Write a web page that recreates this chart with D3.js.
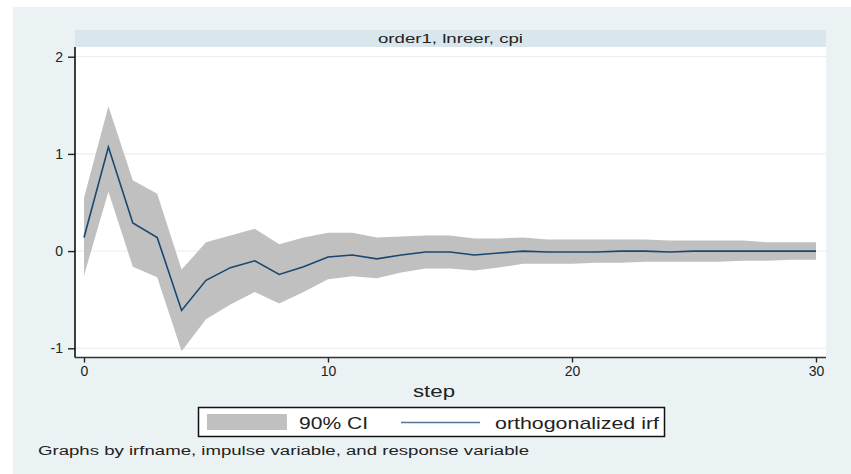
<!DOCTYPE html>
<html>
<head>
<meta charset="utf-8">
<script src="https://cdn.jsdelivr.net/npm/d3@7"></script>
<style>
  body { margin: 0; background: #fff; }
  svg { display: block; font-family: "Liberation Sans", Arial, sans-serif; }
</style>
</head>
<body>
<div id="chart"></div>
<script>
// impulse response of order1, lnreer -> cpi, steps 0..30
const steps = d3.range(0, 31);
const irf = [0.14, 1.07, 0.29, 0.14, -0.61, -0.30, -0.17, -0.10, -0.24, -0.16,
    -0.06, -0.04, -0.08, -0.04, -0.01, -0.01, -0.04, -0.02, 0.00, -0.01,
    -0.01, -0.01, 0.00, 0.00, -0.01, 0.00, 0.00, 0.00, 0.00, 0.00, 0.00];
const upper = [0.55, 1.49, 0.73, 0.59, -0.19, 0.09, 0.16, 0.23, 0.07, 0.14,
    0.19, 0.19, 0.14, 0.15, 0.16, 0.16, 0.13, 0.13, 0.14, 0.12,
    0.12, 0.12, 0.12, 0.12, 0.11, 0.11, 0.11, 0.11, 0.09, 0.09, 0.09];
const lower = [-0.25, 0.61, -0.16, -0.27, -1.03, -0.70, -0.55, -0.42, -0.54, -0.42,
    -0.29, -0.26, -0.28, -0.22, -0.18, -0.18, -0.20, -0.17, -0.13, -0.13,
    -0.13, -0.12, -0.12, -0.11, -0.11, -0.11, -0.11, -0.10, -0.10, -0.09, -0.09];
const yTicks = [-1, 0, 1, 2];
const xTicks = [0, 10, 20, 30];

const data = steps.map(function (s, i) {
    return {step: s, irf: irf[i], lo: lower[i], hi: upper[i]};
});

const W = 851, H = 474;
const plot = {left: 75, right: 826, top: 47, bottom: 357.5};

const svg = d3.select("#chart")
    .append("svg")
    .attr("width", W)
    .attr("height", H);

// outer graph region
svg.append("rect")
    .attr("x", 13).attr("y", 7)
    .attr("width", W - 13).attr("height", H - 7)
    .attr("fill", "#eaf2f3");

// subtitle strip
svg.append("rect")
    .attr("x", plot.left).attr("y", 30)
    .attr("width", plot.right - plot.left).attr("height", 17)
    .attr("fill", "#d9e6eb");
svg.append("text")
    .attr("x", (plot.left + plot.right) / 2)
    .attr("y", 39)
    .attr("text-anchor", "middle")
    .attr("dominant-baseline", "central")
    .attr("font-size", 12)
    .attr("fill", "#222")
    .attr("textLength", 145)
    .attr("lengthAdjust", "spacingAndGlyphs")
    .text("order1, lnreer, cpi");

// plot region
svg.append("rect")
    .attr("x", plot.left).attr("y", plot.top)
    .attr("width", plot.right - plot.left).attr("height", plot.bottom - plot.top)
    .attr("fill", "#fff");

const x = d3.scaleLinear().domain([0, 30]).range([84, 816]);
const y = d3.scaleLinear().domain([-1, 2]).range([348.3, 56.7]);

// gridlines
svg.append("g")
    .selectAll("line")
    .data(yTicks)
    .enter()
    .append("line")
    .attr("x1", plot.left).attr("x2", plot.right)
    .attr("y1", function (d) { return y(d); })
    .attr("y2", function (d) { return y(d); })
    .attr("stroke", "#e4eef1")
    .attr("stroke-width", 1);

// confidence band
const area = d3.area()
    .x(function (d) { return x(d.step); })
    .y0(function (d) { return y(d.lo); })
    .y1(function (d) { return y(d.hi); });
svg.append("path")
    .datum(data)
    .attr("d", area)
    .attr("fill", "#c0c0c0");

// irf line
const line = d3.line()
    .x(function (d) { return x(d.step); })
    .y(function (d) { return y(d.irf); });
svg.append("path")
    .datum(data)
    .attr("d", line)
    .attr("fill", "none")
    .attr("stroke", "#1a476f")
    .attr("stroke-width", 1.6);

// axes (plain hyphen for negatives, as in the original)
const fmt = function (d) { return String(d); };
const yAxis = svg.append("g")
    .attr("transform", `translate(${plot.left}, 0)`)
    .call(d3.axisLeft(y).tickValues(yTicks).tickSize(7).tickPadding(5).tickFormat(fmt));
const xAxis = svg.append("g")
    .attr("transform", `translate(0, ${plot.bottom})`)
    .call(d3.axisBottom(x).tickValues(xTicks).tickSize(5).tickPadding(4).tickFormat(fmt));
[yAxis, xAxis].forEach(function (g) {
    g.select(".domain").remove();
    g.selectAll(".tick line").attr("stroke", "#222").attr("stroke-width", 1.4);
    g.selectAll(".tick text")
        .attr("font-size", 14)
        .attr("fill", "#222")
        .attr("font-family", "\"Liberation Sans\", Arial, sans-serif");
});

svg.append("line")
    .attr("x1", plot.left).attr("x2", plot.left)
    .attr("y1", plot.top).attr("y2", plot.bottom)
    .attr("stroke", "#111").attr("stroke-width", 1.6);
svg.append("line")
    .attr("x1", plot.left).attr("x2", plot.right)
    .attr("y1", plot.bottom).attr("y2", plot.bottom)
    .attr("stroke", "#333").attr("stroke-width", 1.6);

// axis title
svg.append("text")
    .attr("x", 434).attr("y", 391)
    .attr("text-anchor", "middle")
    .attr("dominant-baseline", "central")
    .attr("font-size", 17)
    .attr("fill", "#222")
    .attr("textLength", 42)
    .attr("lengthAdjust", "spacingAndGlyphs")
    .text("step");

// legend
const legend = svg.append("g");
legend.append("rect")
    .attr("x", 198.5).attr("y", 407.5)
    .attr("width", 466).attr("height", 29)
    .attr("fill", "#fff")
    .attr("stroke", "#111")
    .attr("stroke-width", 1.5);
legend.append("rect")
    .attr("x", 207).attr("y", 414)
    .attr("width", 80).attr("height", 16)
    .attr("fill", "#c0c0c0");
legend.append("text")
    .attr("x", 299).attr("y", 423)
    .attr("dominant-baseline", "central")
    .attr("font-size", 17)
    .attr("fill", "#222")
    .attr("textLength", 69)
    .attr("lengthAdjust", "spacingAndGlyphs")
    .text("90% CI");
legend.append("line")
    .attr("x1", 401).attr("x2", 480)
    .attr("y1", 422.5).attr("y2", 422.5)
    .attr("stroke", "#1a476f")
    .attr("stroke-opacity", 0.75)
    .attr("stroke-width", 1.4);
legend.append("text")
    .attr("x", 495).attr("y", 423)
    .attr("dominant-baseline", "central")
    .attr("font-size", 17)
    .attr("fill", "#222")
    .attr("textLength", 164)
    .attr("lengthAdjust", "spacingAndGlyphs")
    .text("orthogonalized irf");

// note
svg.append("text")
    .attr("x", 38).attr("y", 451)
    .attr("dominant-baseline", "central")
    .attr("font-size", 12)
    .attr("fill", "#222")
    .attr("textLength", 491)
    .attr("lengthAdjust", "spacingAndGlyphs")
    .text("Graphs by irfname, impulse variable, and response variable");
</script>
</body>
</html>
